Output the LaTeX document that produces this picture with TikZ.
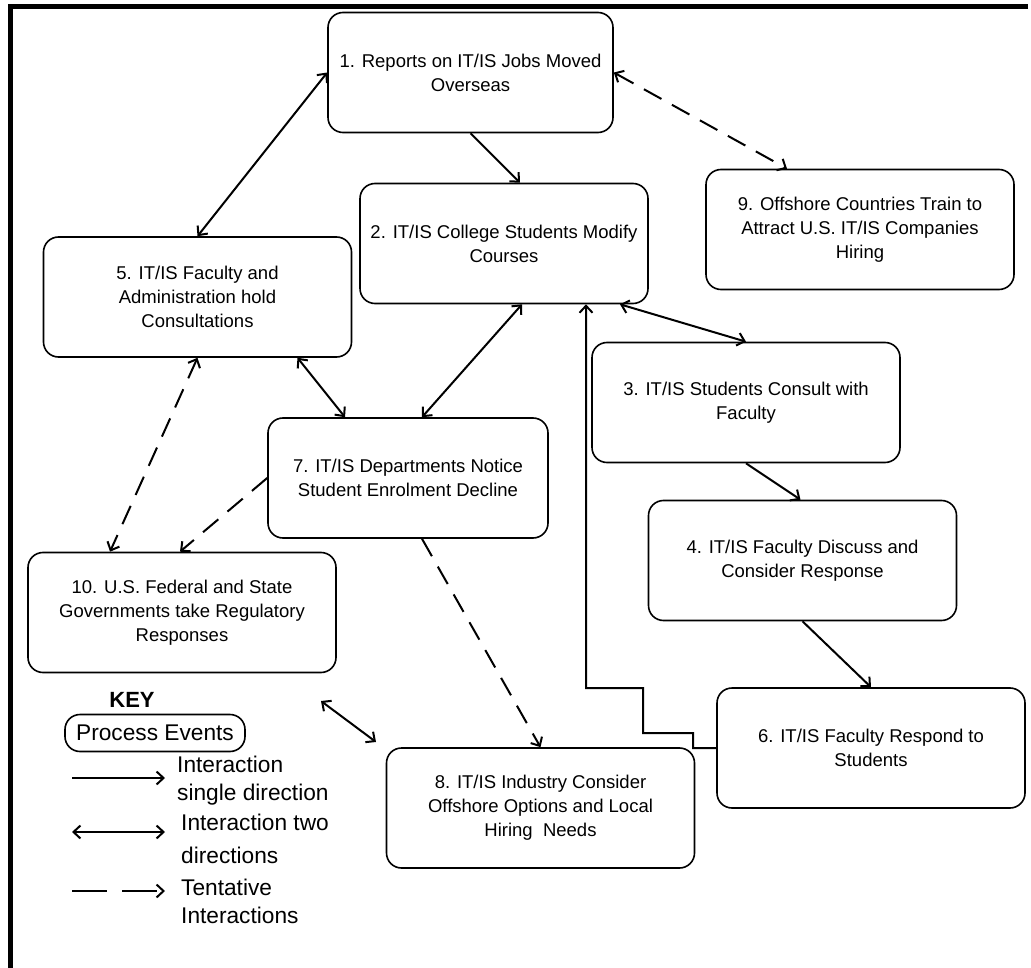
\documentclass[tikz,border=0pt]{standalone}
\usepackage{fontspec}
\setmainfont{Liberation Sans}
\usetikzlibrary{shapes,arrows.meta}
\def \tu {1pt}

\begin{document}
\begin{tikzpicture}[x=\tu,y=-\tu,>={Straight Barb[length=7pt,width=13pt]},
    every node/.style={font=\fontsize{18.5}{24}\selectfont},
    event/.style={draw,rounded corners=15pt,line width=1.6pt,align=center,
      minimum width=308pt,minimum height=120pt},
    link/.style={line width=2pt},
    tentative/.style={link,dash pattern=on 20pt off 12pt},
    keytext/.style={font=\fontsize{22.7}{28}\selectfont,align=left,anchor=west,inner sep=0pt}]
    \useasboundingbox (0,0) rectangle (1031,968);
    \draw[line width=5pt] (1028,7) -- (10.5,7) -- (10.5,968);

    % process events
    \node[event,minimum width=285pt] (n1) at (470.5,72.5) {1. Reports on IT/IS Jobs Moved\\Overseas};
    \node[event,minimum width=288pt] (n2) at (504,243.5) {2. IT/IS College Students Modify\\Courses};
    \node[event] (n3) at (746,402.5) {3. IT/IS Students Consult with\\Faculty};
    \node[event] (n4) at (802.5,560.5) {4. IT/IS Faculty Discuss and\\Consider Response};
    \node[event] (n5) at (197.5,297) {5. IT/IS Faculty and\\Administration hold\\Consultations};
    \node[event] (n6) at (871,748) {6. IT/IS Faculty Respond to\\Students};
    \node[event,minimum width=280pt] (n7) at (408,478) {7. IT/IS Departments Notice\\Student Enrolment Decline};
    \node[event] (n8) at (540.5,808) {8. IT/IS Industry Consider\\Offshore Options and Local\\Hiring~ Needs};
    \node[event] (n9) at (860,229.5) {9. Offshore Countries Train to\\Attract U.S. IT/IS Companies\\Hiring};
    \node[event] (n10) at (182,612.5) {10. U.S. Federal and State\\Governments take Regulatory\\Responses};
    \coordinate (p10) at (321,701);
    \coordinate (p8) at (376,742);

    % interactions
    \path[<->,link] (n1.west) edge (n5.north);
    \path[->,link] (n1.south) edge ([xshift=16pt]n2.north);
    \path[<->,tentative] (n1.east) edge ([xshift=-73pt]n9.north);
    \path[<->,link] ([xshift=116pt]n2.south) edge (n3.north);
    \path[<->,link] ([xshift=18pt]n2.south) edge ([xshift=14pt]n7.north);
    \path[<->,link] ([xshift=100pt]n5.south) edge ([xshift=-63pt]n7.north);
    \path[<->,tentative] (n5.south) edge ([xshift=-72pt]n10.north);
    \path[->,tentative] (n7.west) edge ([xshift=-2pt]n10.north);
    \path[->,tentative] ([xshift=14pt]n7.south) edge (n8.north);
    \path[->,link] (n3.south) edge ([xshift=-2pt]n4.north);
    \path[->,link] (n4.south) edge (n6.north);
    \path[<->,link] (p10) edge (p8);
    \draw[->,link] (n6.west) -- ++(-23,0) -- ++(0,-15) -- ++(-50,0) -- ++(0,-45) -- ++(-57,0)
      -- ([xshift=82pt]n2.south);

    % key
    \node[font=\bfseries\fontsize{22}{26}\selectfont] (key) at (132,700) {KEY};
    \node[draw,rounded corners=15pt,line width=1.6pt,minimum width=180pt,minimum height=37pt,
      font=\fontsize{22.7}{28}\selectfont] (keyev) at (155,733) {Process Events};
    \coordinate (k1a) at (72,778);  \coordinate (k1b) at (165,778);
    \coordinate (k2a) at (72,832);  \coordinate (k2b) at (165,832);
    \coordinate (k3a) at (72,891);  \coordinate (k3b) at (165,891);
    \path[->,link] (k1a) edge (k1b);
    \path[<->,link] (k2a) edge (k2b);
    \path[->,link,dash pattern=on 35pt off 15pt] (k3a) edge (k3b);
    \node[keytext] (kt1) at (177,781) {Interaction\\single direction};
    \node[keytext] (kt2) at (181,839) {Interaction two\\[5pt]directions};
    \node[keytext] (kt3) at (181,901) {Tentative\\Interactions};
\end{tikzpicture}
\end{document}
